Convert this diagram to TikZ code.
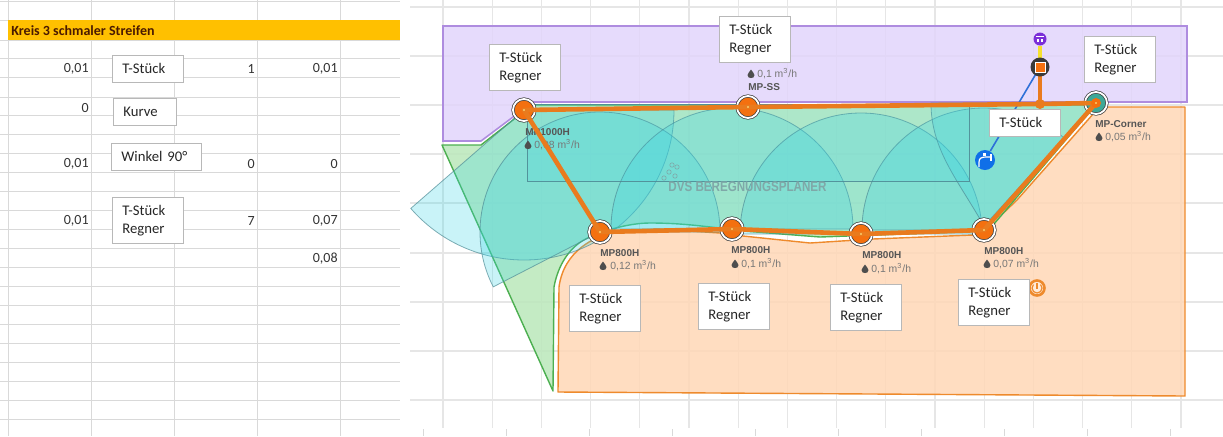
\documentclass[tikz,border=0pt]{standalone}
\usepackage{fontspec}
\setmainfont{Carlito}
\newfontfamily\planfont{Liberation Sans}
\usetikzlibrary{calc}
\definecolor{gridxl}{HTML}{D9D9D9}
\definecolor{gridpl}{HTML}{E6E6E6}
\definecolor{bandc}{HTML}{FFC000}
\definecolor{titlec}{HTML}{4A1A00}
\definecolor{cellc}{HTML}{333333}
\definecolor{boxb}{HTML}{B8B8B8}
\definecolor{purf}{HTML}{E2D5FB}
\definecolor{purd}{HTML}{AE8CDF}
\definecolor{orf}{HTML}{FFD7B6}
\definecolor{ord}{HTML}{EE8A2C}
\definecolor{grf}{HTML}{BCE8BC}
\definecolor{grd}{HTML}{4CAF50}
\definecolor{tealf}{HTML}{38D4E4}
\definecolor{teald}{HTML}{4F8C96}
\definecolor{pipec}{HTML}{E97B1E}
\definecolor{sprc}{HTML}{F4700F}
\definecolor{darkc}{HTML}{3A3A3A}
\definecolor{textd}{HTML}{555555}
\definecolor{textl}{HTML}{777777}
\definecolor{bluec}{HTML}{0F6FE8}
\definecolor{blued}{HTML}{2F70D8}
\definecolor{purplec}{HTML}{7B2FD8}
\definecolor{yellowc}{HTML}{F5E12E}
\definecolor{wmc}{HTML}{7FA8A8}
\definecolor{cornerc}{HTML}{3FA898}
\tikzset{
  xlgrid/.style={draw=gridxl,line width=.45pt},
  plgrid/.style={draw=gridpl,line width=.6pt},
  cell/.style={anchor=east,inner sep=0pt,text=cellc,font=\fontsize{7}{9}\selectfont},
  tbox/.style={anchor=north west,draw=boxb,fill=white,line width=.4pt,inner xsep=5pt,inner ysep=0pt,
    align=left,text=black!85,font=\fontsize{7.35}{9.2}\selectfont},
  tone/.style={tbox,text width=25.5pt,minimum height=13.5pt},
  ttwo/.style={tbox,text width=25.5pt,minimum height=23pt},
  sector/.style={fill=tealf,fill opacity=.27,draw=teald,draw opacity=.7,line width=.4pt},
  pipe/.style={draw=pipec,line width=2.3pt,line cap=round,line join=round},
  sprk/.style={circle,inner sep=0pt,minimum size=11pt,fill=sprc,draw=darkc,line width=.35pt,double=white,double distance=.9pt},
  sname/.style={anchor=west,inner sep=0pt,text=textd,font=\planfont\bfseries\fontsize{5}{6}\selectfont},
  sflow/.style={anchor=west,inner sep=0pt,text=textl,font=\planfont\fontsize{5.2}{6}\selectfont},
  dropl/.pic={\fill[darkc!90] (0,-4.5) .. controls (.8,-2.5) and (3.5,-1) .. (3.5,1.2) .. controls (3.5,3.3) and (1.8,4) .. (0,4) .. controls (-1.8,4) and (-3.5,3.3) .. (-3.5,1.2) .. controls (-3.5,-1) and (-.8,-2.5) .. (0,-4.5) -- cycle;},
}
\begin{document}
\begin{tikzpicture}[x=.5pt,y=-.5pt]
\useasboundingbox (0,0) rectangle (1223,436);
% ---------- spreadsheet
\foreach \y in {1,20,40,58,77,97,115,134,153,172,191,210,229,248,267,286,305,324,343,362,381,400,419}
  \draw[xlgrid] (0,\y) -- (400,\y);
\foreach \x in {8,91,174,257,340}
  \draw[xlgrid] (\x,0) -- (\x,436);
\fill[bandc] (8,20) rectangle (400,40);
\node[anchor=west,inner sep=0pt,text=titlec,font=\bfseries\fontsize{7}{9}\selectfont] (title) at (11,30.5) {Kreis 3 schmaler Streifen};
\node[cell] (a1) at (89,69) {0,01};
\node[cell] (a2) at (89,108) {0};
\node[cell] (a3) at (89,164) {0,01};
\node[cell] (a4) at (89,221) {0,01};
\node[cell] (b1) at (255,69) {1};
\node[cell] (b3) at (255,164) {0};
\node[cell] (b4) at (255,221) {7};
\node[cell] (c1) at (338,69) {0,01};
\node[cell] (c3) at (338,164) {0};
\node[cell] (c4) at (338,221) {0,07};
\node[cell] (c5) at (338,259) {0,08};
\node[tone] (l1) at (112,55) {T-Stück};
\node[tone,text width=21.5pt] (l2) at (113,98) {Kurve};
\node[tone,text width=35pt] (l3) at (111,143) {Winkel 90°};
\node[ttwo] (l4) at (112,197) {T-Stück\\Regner};
% ---------- plan grid
\foreach \y in {7,56,105,154,203,253,302,351,400}
  \draw[plgrid] (410,\y) -- (1223,\y);
\foreach \x in {443,492.2,541.4,590.6,639.8,689,738.2,787.4,836.6,885.8,935,984.2,1033.4,1082.6,1131.8,1181}
  \draw[plgrid] (\x,0) -- (\x,428);
\foreach \x in {423,506,589,672,755,838,921,1004,1087,1170}
  \draw[draw=gridxl,line width=.5pt] (\x,429) -- (\x,436);
% ---------- zones
\path[fill=purf,fill opacity=.85,draw=purd,line width=.8pt]
  (443,26) -- (1187,26) -- (1187,102) -- (1110,102) -- (530,102) -- (513,117) -- (481,141) -- (443,141) -- cycle;
\path[fill=orf,fill opacity=.85,draw=ord,line width=.7pt,line join=round]
  (558,392) -- (1185,396) -- (1185,107) -- (1102,107) -- (1094,113) -- (1017,200) -- (993,223) -- (973,235)
  -- (873,239) -- (810,243) -- (743,236) -- (720,233) -- (657,229) -- (613,232)
  .. controls (595,237) and (564,250) .. (559,287) -- cycle;
\path[fill=grf,fill opacity=.88,draw=grd,line width=.7pt,line join=round]
  (442,145) -- (553,391) -- (554,287) .. controls (558,265) and (570,245) .. (590,237)
  .. controls (605,230) and (630,223) .. (650,223)
  .. controls (680,223) and (700,226) .. (720,228) -- (743,231) -- (820,237) -- (988,231) -- (1092,109)
  -- (1090,105) -- (530,105) -- (513,120) -- (481,145) -- cycle;
% ---------- coordinates of the sprinklers
\coordinate (p1) at (524,110);
\coordinate (p2) at (748,107);
\coordinate (p3) at (1096,103);
\coordinate (p4) at (600,232);
\coordinate (p5) at (732,229);
\coordinate (p6) at (861,234);
\coordinate (p7) at (984,230);
\coordinate (tee) at (1040,104);
\coordinate (valve) at (1040,67);
% ---------- spray sectors
\path[sector] (p1) -- ++(0:150) arc[start angle=0,end angle=139,radius=150] -- cycle;
\path[sector] (p4) -- ++(152.8:120) arc[start angle=152.8,end angle=360,radius=120] -- cycle;
\path[sector] (p5) -- ++(180:121) arc[start angle=180,end angle=360,radius=121] -- cycle;
\path[sector] (p6) -- ++(180:121) arc[start angle=180,end angle=360,radius=121] -- cycle;
\path[sector] (p7) -- ++(180:122) arc[start angle=180,end angle=312,radius=122] -- cycle;
\path[sector] (p3) -- (931,103) .. controls (931,150) and (958,180) .. (984,226) -- cycle;
% ---------- strip
\path[fill=tealf,fill opacity=.16,draw=teald,draw opacity=.9,line width=.45pt] (527,104) rectangle (969,181);
% ---------- watermark
\node[anchor=west,inner sep=0pt,text=wmc,font=\planfont\bfseries\fontsize{7}{8}\selectfont] (wm) at (668,187) {\scalebox{.83}[1]{DVS BEREGNUNGSPLANER}};
\foreach \cx/\cy in {664/178,669/172,675/176,672/165,677/167}
  \draw[wmc,line width=.3pt] (\cx,\cy) circle (2.2);
% ---------- sprinkler texts
\node[sname] (n1) at (525,132) {MP1000H};
\pic at (528,145) {dropl};
\node[sflow] (f1) at (534,145) {0,08 m\textsuperscript{3}/h};
\node[sname] (n2) at (748,87.5) {MP-SS};
\pic at (751,74) {dropl};
\node[sflow] (f2) at (757,74) {0,1 m\textsuperscript{3}/h};
\node[sname] (n3) at (1095,124) {MP-Corner};
\pic at (1099,137) {dropl};
\node[sflow] (f3) at (1105,137) {0,05 m\textsuperscript{3}/h};
\node[sname] (n4) at (600,253.5) {MP800H};
\pic at (603,266) {dropl};
\node[sflow] (f4) at (610,266) {0,12 m\textsuperscript{3}/h};
\node[sname] (n5) at (731,250.5) {MP800H};
\pic at (735,264) {dropl};
\node[sflow] (f5) at (741,264) {0,1 m\textsuperscript{3}/h};
\node[sname] (n6) at (862,255) {MP800H};
\pic at (865,269) {dropl};
\node[sflow] (f6) at (871,269) {0,1 m\textsuperscript{3}/h};
\node[sname] (n7) at (984,251) {MP800H};
\pic at (987,264) {dropl};
\node[sflow] (f7) at (993,264) {0,07 m\textsuperscript{3}/h};
% ---------- sprinklers
\node[sprk] (s1) at (p1) {};
\node[sprk] (s2) at (p2) {};
\node[sprk,fill=cornerc] (s3) at (p3) {};
\node[sprk] (s4) at (p4) {};
\node[sprk] (s5) at (p5) {};
\node[sprk] (s6) at (p6) {};
\node[sprk] (s7) at (p7) {};
% ---------- pipes
\node[circle,inner sep=0pt,minimum size=10pt,fill=bluec] (tap) at (985,160) {};
\draw[blued,line width=.8pt] (valve) -- (tap);
\draw[pipe] (s1.center) -- (s2.center) -- (tee) -- (s3.center) -- (s7.center) -- (s6.center) -- (s5.center) -- (s4.center) -- (s1.center);
\draw[pipe] (tee) -- (valve);
\fill[pipec] (tee) circle (5);
\node[circle,inner sep=0pt,minimum size=6.5pt,fill=purplec] (pump) at (1040,39) {};
\draw[yellowc,line width=2.2pt] (pump) -- (valve);
\node[circle,inner sep=0pt,minimum size=9.5pt,fill=darkc] (vbody) at (valve) {};
\node[inner sep=0pt,minimum size=5pt,fill=sprc,draw=white,line width=.35pt] (vcore) at (valve) {};
\fill[sprc] (s3) circle (5);
\foreach \k in {1,...,7} \fill[white!60!yellow] (s\k) circle (.9);
% small icons
\fill[white] (1037,39) rectangle (1038.5,42);
\fill[white] (1041,39) rectangle (1042.5,42);
\draw[white,line width=.4pt] (1036,36.5) -- (1044,36.5);
\draw[white,line width=.6pt] (979,167) -- (979,162) .. controls (979,158) and (982,157) .. (986,157) -- (990,157);
\fill[white] (989.5,153.5) rectangle (991.5,161);
\fill[white] (983,152.5) rectangle (985.5,156);
% power button
\node[circle,inner sep=0pt,minimum size=7.5pt,draw=ord,line width=1.3pt,fill=orf!50!white] (pwr) at (1037,288) {};
\draw[ord,line width=.6pt] (1033.5,284.5) arc[start angle=225,end angle=-45,radius=5];
\draw[ord,line width=.7pt] (1037,282.5) -- (1037,288.5);
% ---------- plan labels
\node[ttwo] (t1) at (489,44) {T-Stück\\Regner};
\node[ttwo] (t2) at (719,16) {T-Stück\\Regner};
\node[ttwo] (t3) at (1084,36) {T-Stück\\Regner};
\node[tone] (t4) at (989,109) {T-Stück};
\node[ttwo] (t5) at (569,285) {T-Stück\\Regner};
\node[ttwo] (t6) at (698,283) {T-Stück\\Regner};
\node[ttwo] (t7) at (830,284) {T-Stück\\Regner};
\node[ttwo] (t8) at (958,279) {T-Stück\\Regner};
\end{tikzpicture}
\end{document}
